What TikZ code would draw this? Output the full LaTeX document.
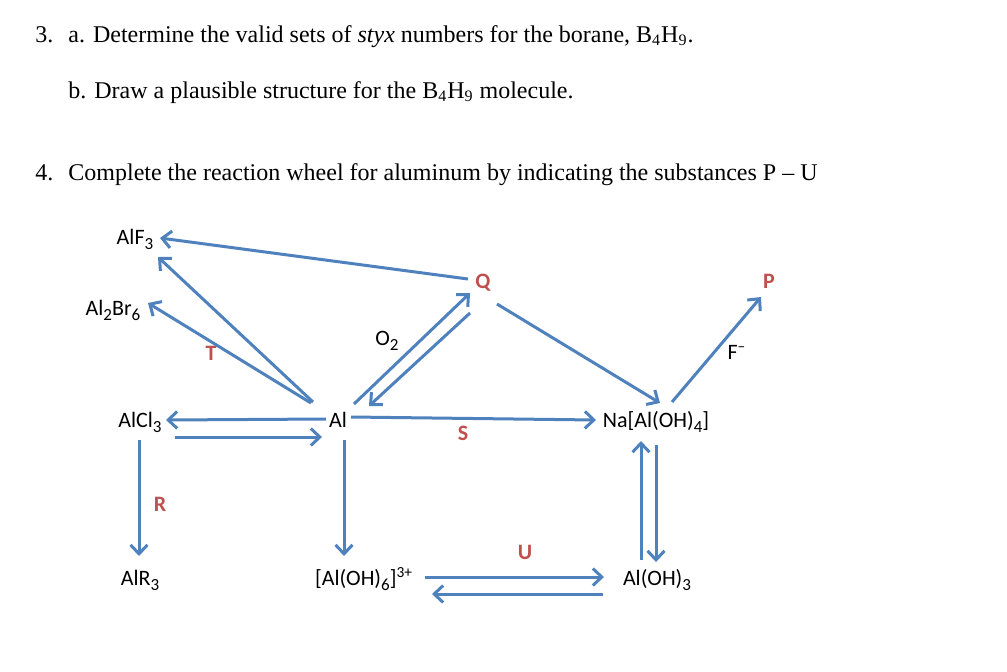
\documentclass[tikz,border=0pt]{standalone}
\usepackage{fontspec}
\setmainfont{Liberation Serif}
\newfontfamily\labelfont{Carlito}
\usepackage{tikz}
\usepackage{xcolor}
\usetikzlibrary{arrows.meta}
\definecolor{wheelblue}{HTML}{4F81BD}
\definecolor{wheelred}{HTML}{C0504D}
\newcommand{\chemsub}[1]{\raisebox{-0.55ex}{\fontsize{8.5}{9}\selectfont #1}}

\begin{document}
\begin{tikzpicture}[x=0.5pt, y=-0.5pt,
    line/.style={anchor=base west, inner sep=0pt, font=\fontsize{12}{14}\selectfont},
    chem/.style={anchor=base, inner sep=0pt, font=\labelfont\fontsize{11}{13}\selectfont},
    unknown/.style={chem, text=wheelred, font=\labelfont\bfseries\fontsize{11}{13}\selectfont},
    rxn/.style={draw=wheelblue, line width=1.5pt, -{Straight Barb[length=4.5pt, width=8.5pt]}}]
    \useasboundingbox (0,0) rectangle (1007,671);
    % Questions
    \node[line] (n3) at (35,42) {3.};
    \node[line] (q3a) at (68,42) {a. Determine the valid sets of \textit{styx} numbers for the borane, B\textsubscript{4}H\textsubscript{9}.};
    \node[line] (q3b) at (68,98) {b. Draw a plausible structure for the B\textsubscript{4}H\textsubscript{9} molecule.};
    \node[line] (n4) at (35,180) {4.};
    \node[line] (q4) at (68,180) {Complete the reaction wheel for aluminum by indicating the substances P -- U};
    % Compounds
    \node[chem] (AlF) at (135,244) {AlF\chemsub{3}};
    \node[chem] (AlBr) at (113,315) {Al\chemsub{2}Br\chemsub{6}};
    \node[chem] (AlCl) at (140,427) {AlCl\chemsub{3}};
    \node[chem] (Al) at (338,427) {Al};
    \node[chem] (Na) at (656,427) {Na[Al(OH)\chemsub{4}]};
    \node[chem] (AlR) at (140,585) {AlR\chemsub{3}};
    \node[chem] (AlOHsix) at (364,585) {[Al(OH)\chemsub{6}]\textsuperscript{3+}};
    \node[chem] (AlOHthree) at (657,585) {Al(OH)\chemsub{3}};
    % Unknowns P - U
    \node[unknown] (Q) at (483,288) {Q};
    \node[unknown] (P) at (769,288) {P};
    \node[unknown] (T) at (211,360) {T};
    \node[unknown] (S) at (463,440) {S};
    \node[unknown] (R) at (160,511) {R};
    \node[unknown] (U) at (525,559) {U};
    % Reagents
    \node[chem] (O2) at (387,345) {O\chemsub{2}};
    \node[chem] (F) at (737,359) {F\textsuperscript{–}};
    % Arrows
    \draw[rxn] ([shift={(-15,-9)}]Q.base) -- ([shift={(25,-6)}]AlF.base);
    \draw[rxn] ([shift={(-25,-25)}]Al.base) -- ([shift={(23,13)}]AlF.base);
    \draw[rxn] ([shift={(-27,-24)}]Al.base) -- ([shift={(35,-12)}]AlBr.base);
    \draw[rxn] ([shift={(16,-23)}]Al.base) -- ([shift={(-13,5)}]Q.base);
    \draw[rxn] ([shift={(-13,25)}]Q.base) -- ([shift={(31,-21)}]Al.base);
    \draw[rxn] ([shift={(-12,-8)}]Al.base) -- ([shift={(26,-7)}]AlCl.base);
    \draw[rxn] ([shift={(35,10)}]AlCl.base) -- ([shift={(-16,10)}]Al.base);
    \draw[rxn] ([shift={(13,-10)}]Al.base) -- ([shift={(-60,-7)}]Na.base);
    \draw[rxn] ([shift={(14,16)}]Q.base) -- ([shift={(4,-24)}]Na.base);
    \draw[rxn] ([shift={(16,-25)}]Na.base) -- ([shift={(-8,9)}]P.base);
    \draw[rxn] ([shift={(-1,13)}]AlCl.base) -- ([shift={(-1,-29)}]AlR.base);
    \draw[rxn] ([shift={(6,13)}]Al.base) -- ([shift={(-20,-29)}]AlOHsix.base);
    \draw[rxn] ([shift={(-16,-25)}]AlOHthree.base) -- ([shift={(-15,14)}]Na.base);
    \draw[rxn] ([shift={(0,18)}]Na.base) -- ([shift={(-1,-23)}]AlOHthree.base);
    \draw[rxn] ([shift={(61,-8)}]AlOHsix.base) -- ([shift={(-53,-8)}]AlOHthree.base);
    \draw[rxn] ([shift={(-54,9)}]AlOHthree.base) -- ([shift={(68,9)}]AlOHsix.base);
\end{tikzpicture}
\end{document}
